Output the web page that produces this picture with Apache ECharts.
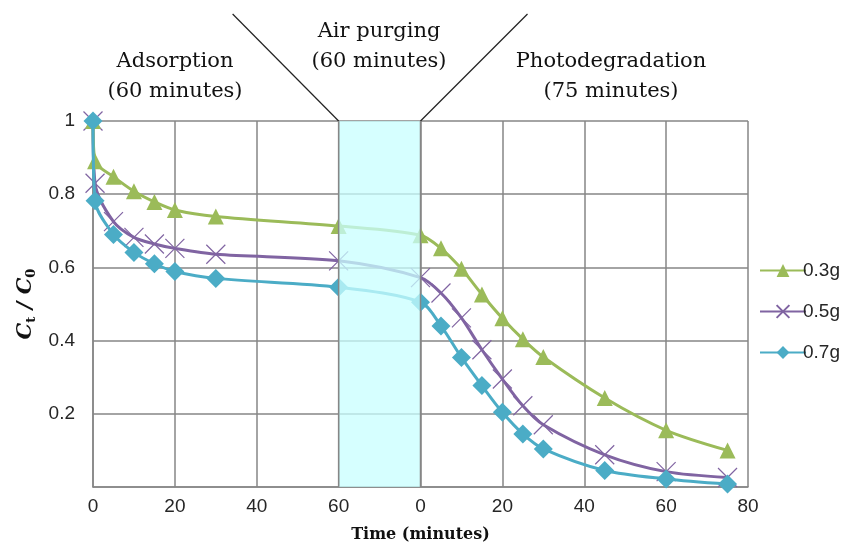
<!DOCTYPE html>
<html>
<head>
<meta charset="utf-8">
<script src="https://cdn.jsdelivr.net/npm/echarts@6/dist/echarts.min.js"></script>
<style>html,body{margin:0;padding:0;background:#fff}#c{width:843px;height:548px}</style>
</head>
<body>
<div id="c"></div>
<script>
// Time points (minutes)
var adsTime = [0, 0.5, 5, 10, 15, 20, 30, 60];
var photoTime = [0, 5, 10, 15, 20, 25, 30, 45, 60, 75];
// Offset of photodegradation stage on the combined axis (60 min adsorption + air purging band)
var photoOffset = 80;
var purgeStart = 60, purgeEnd = 80;
var xTicks = [0, 20, 40, 60, 0, 20, 40, 60, 80];

var names = ['0.3g', '0.5g', '0.7g'];
var ads03 = [1, 0.89, 0.848, 0.808, 0.779, 0.757, 0.739, 0.713];
var photo03 = [0.688, 0.652, 0.596, 0.526, 0.461, 0.404, 0.355, 0.243, 0.155, 0.100];
var ads05 = [1, 0.83, 0.725, 0.682, 0.664, 0.652, 0.636, 0.618];
var photo05 = [0.572, 0.530, 0.462, 0.375, 0.295, 0.222, 0.170, 0.088, 0.042, 0.026];
var ads07 = [1, 0.782, 0.690, 0.641, 0.610, 0.589, 0.570, 0.546];
var photo07 = [0.505, 0.440, 0.354, 0.277, 0.204, 0.145, 0.104, 0.045, 0.022, 0.008];

function build(ads, photo) {
  var d = [];
  adsTime.forEach(function (t, i) { d.push([t, ads[i]]); });
  photoTime.forEach(function (t, i) { d.push([t + photoOffset, photo[i]]); });
  return d;
}

var green = '#9BBB59', purple = '#8064A2', cyan = '#4BACC6';
var xPath = 'path://M0,0L10,10M10,0L0,10';

var chart = echarts.init(document.getElementById('c'));
var tickFont = 'Liberation Sans';
var txt = '#262626';
chart.setOption({
  animation: false,
  backgroundColor: '#fff',
  grid: { left: 93, right: 95, top: 121, bottom: 60, containLabel: false },
  xAxis: {
    type: 'value', min: 0, max: 160, interval: 20,
    name: 'Time (minutes)', nameLocation: 'middle', nameGap: 40,
    nameTextStyle: { fontFamily: 'DejaVu Serif', fontWeight: 'bold', fontSize: 16, color: '#111' },
    axisLine: { lineStyle: { color: '#868686', width: 1.5 } },
    axisTick: { show: false },
    axisLabel: {
      margin: 10, fontFamily: tickFont, fontSize: 19, color: txt,
      formatter: function (v) { var i = Math.round(v / 20); return xTicks[i] !== undefined ? String(xTicks[i]) : ''; }
    },
    splitLine: { show: true, lineStyle: { color: '#868686', width: 1.5 } }
  },
  yAxis: {
    type: 'value', min: 0, max: 1, interval: 0.2,
    name: '{a|C}{s|t}{a| / C}{s|0}', nameLocation: 'middle', nameGap: 50, nameRotate: 90,
    nameTextStyle: {
      rich: {
        a: { fontFamily: 'DejaVu Serif', fontWeight: 'bold', fontStyle: 'italic', fontSize: 21, color: '#111', lineHeight: 24 },
        s: { fontFamily: 'DejaVu Serif', fontWeight: 'bold', fontSize: 13, color: '#111', verticalAlign: 'bottom', lineHeight: 18 }
      }
    },
    axisLine: { show: true, lineStyle: { color: '#868686', width: 1.5 } },
    axisTick: { show: false },
    axisLabel: {
      margin: 18, fontFamily: tickFont, fontSize: 19, color: txt,
      formatter: function (v) { return v === 0 ? '' : String(+v.toFixed(1)); }
    },
    splitLine: { show: true, lineStyle: { color: '#868686', width: 1.5 } }
  },
  legend: {
    orient: 'vertical', left: 754, top: 256, itemWidth: 46, itemHeight: 16, itemGap: 22,
    textStyle: { fontFamily: tickFont, fontSize: 19, color: txt, padding: [0, 0, 0, -8] },
    data: names
  },
  graphic: [
    { type: 'text', x: 175, y: 77, silent: true, style: { text: 'Adsorption\n(60 minutes)', font: '21px "DejaVu Serif"', lineHeight: 30, fill: '#111', textAlign: 'center', textVerticalAlign: 'middle' } },
    { type: 'text', x: 379, y: 47, silent: true, style: { text: 'Air purging\n(60 minutes)', font: '21px "DejaVu Serif"', lineHeight: 30, fill: '#111', textAlign: 'center', textVerticalAlign: 'middle' } },
    { type: 'text', x: 611, y: 77, silent: true, style: { text: 'Photodegradation\n(75 minutes)', font: '21px "DejaVu Serif"', lineHeight: 30, fill: '#111', textAlign: 'center', textVerticalAlign: 'middle' } }
  ],
  series: [
    {
      name: names[0], type: 'line', data: build(ads03, photo03), smooth: 0.3,
      symbol: 'triangle', symbolSize: 16, showAllSymbol: true,
      lineStyle: { color: green, width: 3 }, itemStyle: { color: green }, z: 3
    },
    {
      name: names[1], type: 'line', data: build(ads05, photo05), smooth: 0.3,
      symbol: xPath, symbolSize: 19, showAllSymbol: true,
      lineStyle: { color: purple, width: 3 },
      itemStyle: { color: 'rgba(0,0,0,0)', borderColor: purple, borderWidth: 1.2 }, z: 2
    },
    {
      name: names[2], type: 'line', data: build(ads07, photo07), smooth: 0.3,
      symbol: 'diamond', symbolSize: 19, showAllSymbol: true,
      lineStyle: { color: cyan, width: 3 }, itemStyle: { color: cyan }, z: 4
    },
    {
      type: 'custom', silent: true, z: 10, clip: false,
      data: [[purgeStart, purgeEnd]],
      renderItem: function (params, api) {
        var tl = api.coord([api.value(0), 1]);
        var br = api.coord([api.value(1), 0]);
        var tr = api.coord([api.value(1), 1]);
        return {
          type: 'group', children: [
            { type: 'rect', shape: { x: tl[0], y: tl[1], width: br[0] - tl[0], height: br[1] - tl[1] },
              style: { fill: 'rgba(200,255,255,0.75)' } },
            { type: 'line', shape: { x1: tl[0], y1: tl[1], x2: tl[0] - 106, y2: tl[1] - 107 },
              style: { stroke: '#222', lineWidth: 1.2 } },
            { type: 'line', shape: { x1: tr[0], y1: tr[1], x2: tr[0] + 107, y2: tr[1] - 107 },
              style: { stroke: '#222', lineWidth: 1.2 } },
            { type: 'line', shape: { x1: tl[0], y1: tl[1], x2: tl[0], y2: br[1] },
              style: { stroke: '#868686', lineWidth: 1.5 } },
            { type: 'line', shape: { x1: tr[0], y1: tr[1], x2: tr[0], y2: br[1] },
              style: { stroke: '#868686', lineWidth: 1.5 } }
          ]
        };
      }
    }
  ]
});
</script>
</body>
</html>
